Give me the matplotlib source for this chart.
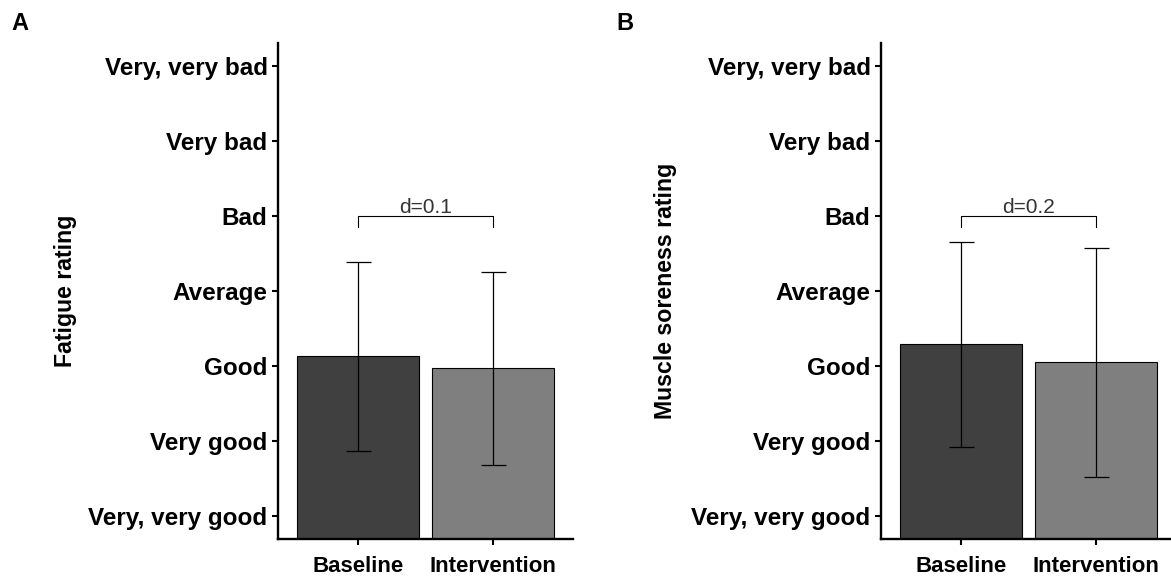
import matplotlib
matplotlib.use("Agg")
import matplotlib.pyplot as plt

# data
groups = ["Baseline", "Intervention"]
rating_labels = ["Very, very good", "Very good", "Good", "Average",
                 "Bad", "Very bad", "Very, very bad"]
rating_levels = [1, 2, 3, 4, 5, 6, 7]

fatigue_mean = [3.13, 2.97]
fatigue_sd = [1.255, 1.285]
soreness_mean = [3.29, 3.05]
soreness_sd = [1.36, 1.52]

effect_labels = ["d=0.1", "d=0.2"]
bracket_y = 5.0
bracket_drop = 0.15

bar_colors = ["#404040", "#7f7f7f"]

plt.rcParams["font.family"] = ["Liberation Sans", "DejaVu Sans"]

fig = plt.figure(figsize=(11.71, 5.79), dpi=100)

W, H = 1171, 579
ax_w = 295 / W
ax_h = 496 / H
ax_b = (H - 539) / H
lefts = [278 / W, 881 / W]

panels = [
    ("A", "Fatigue rating", fatigue_mean, fatigue_sd, effect_labels[0], 20, -0.722),
    ("B", "Muscle soreness rating", soreness_mean, soreness_sd, effect_labels[1], 625, -0.732),
]

for left, (letter, ylabel, means, sds, dlab, letter_x, ylab_x) in zip(lefts, panels):
    ax = fig.add_axes([left, ax_b, ax_w, ax_h])
    x = [1, 2]
    ax.bar(x, means, width=0.91, color=bar_colors, edgecolor="black",
           linewidth=0.8, zorder=2)
    ax.errorbar(x, means, yerr=sds, fmt="none", ecolor="black",
                elinewidth=0.9, capsize=9, capthick=0.9, zorder=3)

    # effect size bracket
    ax.plot([x[0], x[0], x[1], x[1]],
            [bracket_y - bracket_drop, bracket_y, bracket_y, bracket_y - bracket_drop],
            color="black", linewidth=0.8, zorder=3)
    ax.text((x[0] + x[1]) / 2, bracket_y + 0.035, dlab, ha="center",
            va="baseline", fontsize=15, color="#333333")

    ax.set_xlim(0.4, 2.6)
    ax.set_ylim(0.7, 7.3)
    ax.set_xticks(x)
    ax.set_xticklabels(groups, fontsize=16, fontweight="bold")
    ax.set_yticks(rating_levels)
    ax.set_yticklabels(rating_labels, fontsize=17.5, fontweight="bold")

    for side in ["top", "right"]:
        ax.spines[side].set_visible(False)
    for side in ["left", "bottom"]:
        ax.spines[side].set_linewidth(1.7)
    ax.tick_params(axis="both", length=4.5, width=1.5, color="black")
    ax.tick_params(axis="y", pad=3)
    ax.tick_params(axis="x", pad=8)

    ax.set_ylabel(ylabel, fontsize=16.7, fontweight="bold", va="center")
    ax.yaxis.set_label_coords(ylab_x, 0.5)

    fig.text(letter_x / W, 1 - 24 / H, letter, ha="center", va="center",
             fontsize=17, fontweight="bold")

fig.savefig("out.png", dpi=100)
